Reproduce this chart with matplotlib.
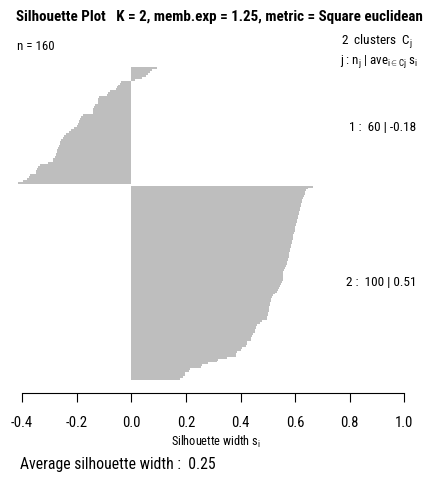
import numpy as np
import matplotlib
matplotlib.use("Agg")
import matplotlib.pyplot as plt

plt.rcParams['font.family'] = ['Roboto Condensed', 'Liberation Sans', 'DejaVu Sans']
plt.rcParams['mathtext.fontset'] = 'custom'
plt.rcParams['mathtext.rm'] = 'Roboto Condensed'
plt.rcParams['mathtext.it'] = 'Roboto Condensed'

# silhouette widths, sorted within cluster (top to bottom)
sil_c1 = [0.093, 0.075, 0.068, 0.060, 0.052, 0.040, 0.012, -0.036, -0.041, -0.048,
          -0.052, -0.055, -0.078, -0.085, -0.090, -0.118, -0.121, -0.122, -0.123, -0.133,
          -0.136, -0.139, -0.140, -0.141, -0.176, -0.186, -0.189, -0.191, -0.193, -0.194,
          -0.200, -0.210, -0.220, -0.230, -0.240, -0.247, -0.252, -0.256, -0.260, -0.262,
          -0.265, -0.270, -0.273, -0.274, -0.275, -0.277, -0.280, -0.286, -0.288, -0.304,
          -0.334, -0.340, -0.347, -0.348, -0.350, -0.371, -0.375, -0.383, -0.395, -0.414]
sil_c2 = [0.667, 0.648, 0.640, 0.636, 0.635, 0.632, 0.628, 0.627, 0.625, 0.622,
          0.620, 0.619, 0.617, 0.615, 0.613, 0.612, 0.610, 0.608, 0.606, 0.605,
          0.603, 0.601, 0.599, 0.598, 0.596, 0.594, 0.592, 0.591, 0.589, 0.587,
          0.585, 0.584, 0.582, 0.581, 0.579, 0.577, 0.576, 0.574, 0.573, 0.571,
          0.569, 0.566, 0.562, 0.558, 0.557, 0.557, 0.556, 0.556, 0.555, 0.551,
          0.547, 0.544, 0.541, 0.538, 0.532, 0.525, 0.519, 0.514, 0.512, 0.511,
          0.509, 0.508, 0.506, 0.505, 0.503, 0.502, 0.500, 0.498, 0.496, 0.480,
          0.470, 0.460, 0.458, 0.456, 0.454, 0.452, 0.445, 0.441, 0.440, 0.438,
          0.425, 0.423, 0.420, 0.404, 0.403, 0.386, 0.385, 0.383, 0.349, 0.319,
          0.315, 0.282, 0.258, 0.255, 0.215, 0.212, 0.197, 0.195, 0.190, 0.180]
cluster_labels = ["1 :  60 | -0.18", "2 :  100 | 0.51"]
xticks = [-0.4, -0.2, 0.0, 0.2, 0.4, 0.6, 0.8, 1.0]

n1, n2 = len(sil_c1), len(sil_c2)
pos1 = np.arange(n1)
pos2 = np.arange(n2) + n1 + 1

fig = plt.figure(figsize=(4.27, 4.83), dpi=100)
ax = fig.add_axes([0.0326, 0.1863, 0.9335, 0.6894])
ax.barh(pos1, sil_c1, height=1.0, color="#bebebe", linewidth=0)
ax.barh(pos2, sil_c2, height=1.0, color="#bebebe", linewidth=0)
ax.set_xlim(-0.43, 1.03)
ax.set_ylim(167.2, -4.1)

for s in ["top", "right", "left"]:
    ax.spines[s].set_visible(False)
ax.spines["bottom"].set_bounds(-0.4, 1.0)
ax.spines["bottom"].set_linewidth(0.8)
ax.set_yticks([])
ax.set_xticks(xticks)
ax.set_xticklabels(["%.1f" % t for t in xticks], fontsize=10.5)
ax.tick_params(axis="x", length=6.5, width=0.8, pad=10)

# cluster annotations
ax.text(1.045, pos1.mean() + 1, cluster_labels[0], ha="right", va="center", fontsize=9.5)
ax.text(1.045, pos2.mean(), cluster_labels[1], ha="right", va="center", fontsize=9.5)

fig.text(0.513, 0.965, "Silhouette Plot   K = 2, memb.exp = 1.25, metric = Square euclidean",
         ha="center", va="center", fontsize=10.8, fontweight="bold")
fig.text(17 / 427, 1 - 47 / 483, "n = 160", ha="left", va="center", fontsize=9.3)
fig.text(412 / 427, 1 - 42 / 483, r"2  clusters  $C_\mathrm{j}$", ha="right", va="center", fontsize=9.5)
fig.text(418 / 427, 1 - 62 / 483, r"j : $\mathrm{n_j}$ | $\mathrm{ave_{i{\in}Cj}}$ $\mathrm{s_i}$",
         ha="right", va="center", fontsize=9.3)
fig.text(216 / 427, 1 - 442 / 483, r"Silhouette width $\mathrm{s_i}$", ha="center", va="center", fontsize=8.8)
fig.text(20 / 427, 1 - 465 / 483, "Average silhouette width :  0.25", ha="left", va="center", fontsize=11.3)

fig.savefig("out.png", dpi=100)
